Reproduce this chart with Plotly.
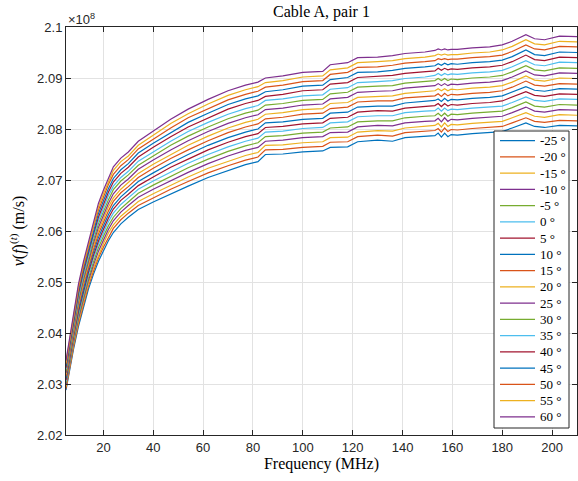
import plotly.graph_objects as go

# ---------------- data ----------------
# frequency sample points (MHz)
freq_mhz = [5, 6, 8, 10, 12, 14, 16, 18, 20, 22, 24, 27, 30, 34, 40, 47, 54, 62, 70, 77,
            82, 85, 92, 100, 108, 111, 118, 122, 130, 136, 141, 149, 153,
            154.3, 155.6, 156.9, 158.2, 159.5,
            162, 168, 175, 180, 184, 189.5, 193, 197, 203, 210]

temps_c = [-25, -20, -15, -10, -5, 0, 5, 10, 15, 20, 25, 30, 35, 40, 45, 50, 55, 60]

# phase velocity v(f) in units of 1e4 m/s (plotted in units of 1e8 m/s)
v_m25 = [20288, 20316, 20368, 20413, 20452, 20486, 20515, 20540, 20561, 20581, 20597, 20614, 20627, 20642, 20657, 20673, 20688, 20705, 20719, 20730, 20736, 20750, 20751, 20755, 20757, 20764, 20765, 20775, 20778, 20776, 20783, 20786, 20787, 20792, 20784, 20792, 20785, 20789, 20788, 20791, 20793, 20795, 20802, 20812, 20805, 20803, 20807, 20806]
v_m20 = [20291, 20320, 20372, 20418, 20457, 20492, 20521, 20547, 20568, 20588, 20605, 20622, 20635, 20650, 20665, 20682, 20697, 20714, 20728, 20739, 20745, 20759, 20760, 20764, 20766, 20774, 20775, 20785, 20788, 20786, 20793, 20796, 20797, 20801, 20794, 20802, 20795, 20799, 20798, 20801, 20803, 20805, 20812, 20822, 20815, 20813, 20817, 20816]
v_m15 = [20295, 20323, 20376, 20423, 20462, 20497, 20527, 20553, 20575, 20596, 20612, 20629, 20642, 20658, 20673, 20690, 20706, 20723, 20737, 20748, 20754, 20768, 20769, 20773, 20775, 20783, 20784, 20794, 20797, 20796, 20802, 20805, 20807, 20811, 20804, 20812, 20805, 20809, 20808, 20811, 20813, 20815, 20822, 20832, 20825, 20823, 20828, 20827]
v_m10 = [20298, 20327, 20381, 20428, 20468, 20503, 20533, 20560, 20582, 20603, 20620, 20637, 20650, 20666, 20682, 20699, 20715, 20732, 20747, 20758, 20764, 20776, 20778, 20783, 20785, 20793, 20794, 20804, 20807, 20806, 20812, 20815, 20816, 20821, 20814, 20822, 20815, 20819, 20818, 20821, 20823, 20825, 20832, 20843, 20835, 20833, 20838, 20837]
v_m5 = [20302, 20330, 20385, 20433, 20473, 20508, 20539, 20567, 20589, 20610, 20627, 20644, 20657, 20674, 20690, 20707, 20724, 20741, 20756, 20767, 20773, 20785, 20787, 20792, 20794, 20802, 20804, 20814, 20816, 20816, 20822, 20825, 20826, 20831, 20825, 20831, 20825, 20829, 20828, 20831, 20833, 20835, 20842, 20853, 20845, 20843, 20848, 20847]
v_0 = [20305, 20334, 20389, 20438, 20478, 20514, 20546, 20574, 20596, 20618, 20635, 20652, 20665, 20682, 20698, 20716, 20733, 20750, 20765, 20776, 20782, 20794, 20796, 20801, 20803, 20812, 20814, 20824, 20826, 20826, 20832, 20835, 20836, 20841, 20835, 20841, 20836, 20839, 20838, 20841, 20843, 20845, 20852, 20863, 20856, 20854, 20859, 20858]
v_5 = [20308, 20337, 20393, 20442, 20483, 20519, 20552, 20580, 20603, 20625, 20643, 20660, 20672, 20689, 20706, 20725, 20741, 20759, 20774, 20785, 20791, 20803, 20805, 20810, 20812, 20821, 20823, 20833, 20836, 20835, 20841, 20844, 20846, 20850, 20844, 20850, 20845, 20848, 20847, 20850, 20852, 20855, 20862, 20873, 20866, 20864, 20869, 20868]
v_10 = [20312, 20341, 20397, 20447, 20488, 20525, 20558, 20587, 20610, 20632, 20650, 20667, 20680, 20697, 20714, 20733, 20750, 20768, 20783, 20794, 20800, 20812, 20814, 20819, 20821, 20831, 20833, 20843, 20845, 20845, 20851, 20854, 20856, 20859, 20854, 20860, 20855, 20858, 20857, 20860, 20862, 20865, 20872, 20883, 20876, 20874, 20879, 20878]
v_15 = [20315, 20344, 20402, 20452, 20494, 20530, 20564, 20594, 20617, 20639, 20658, 20675, 20687, 20705, 20723, 20742, 20759, 20777, 20793, 20804, 20810, 20820, 20823, 20829, 20831, 20840, 20843, 20853, 20855, 20855, 20861, 20864, 20865, 20869, 20864, 20870, 20865, 20868, 20867, 20870, 20872, 20875, 20882, 20894, 20886, 20884, 20889, 20888]
v_20 = [20319, 20348, 20406, 20457, 20499, 20536, 20570, 20600, 20624, 20647, 20665, 20682, 20695, 20713, 20731, 20750, 20768, 20786, 20802, 20813, 20819, 20829, 20832, 20838, 20840, 20850, 20852, 20862, 20864, 20865, 20870, 20873, 20875, 20879, 20875, 20879, 20875, 20878, 20877, 20880, 20882, 20885, 20892, 20904, 20896, 20894, 20900, 20899]
v_25 = [20322, 20351, 20410, 20462, 20504, 20541, 20576, 20607, 20631, 20654, 20673, 20690, 20702, 20721, 20739, 20759, 20777, 20795, 20811, 20822, 20828, 20838, 20841, 20847, 20849, 20859, 20862, 20872, 20874, 20875, 20880, 20883, 20885, 20889, 20885, 20889, 20885, 20888, 20887, 20890, 20892, 20895, 20902, 20914, 20906, 20904, 20910, 20909]
v_30 = [20325, 20355, 20414, 20467, 20509, 20547, 20582, 20614, 20638, 20661, 20681, 20698, 20710, 20729, 20747, 20768, 20786, 20804, 20820, 20831, 20837, 20847, 20850, 20856, 20858, 20869, 20872, 20882, 20884, 20885, 20890, 20893, 20895, 20899, 20895, 20899, 20895, 20898, 20897, 20900, 20902, 20905, 20912, 20924, 20916, 20914, 20920, 20919]
v_35 = [20329, 20358, 20418, 20472, 20514, 20552, 20588, 20620, 20645, 20669, 20688, 20705, 20717, 20737, 20755, 20776, 20795, 20813, 20829, 20840, 20846, 20856, 20859, 20865, 20867, 20878, 20881, 20891, 20893, 20895, 20899, 20902, 20905, 20909, 20905, 20909, 20906, 20908, 20907, 20910, 20912, 20915, 20922, 20934, 20926, 20924, 20931, 20930]
v_40 = [20332, 20362, 20423, 20477, 20520, 20558, 20594, 20627, 20652, 20676, 20696, 20713, 20725, 20745, 20764, 20785, 20804, 20822, 20839, 20850, 20856, 20864, 20868, 20875, 20877, 20888, 20891, 20901, 20903, 20905, 20909, 20912, 20914, 20919, 20915, 20919, 20916, 20918, 20917, 20920, 20922, 20925, 20932, 20945, 20936, 20934, 20941, 20940]
v_45 = [20336, 20365, 20427, 20482, 20525, 20563, 20600, 20634, 20659, 20683, 20703, 20720, 20732, 20753, 20772, 20793, 20813, 20831, 20848, 20859, 20865, 20873, 20877, 20884, 20886, 20897, 20901, 20911, 20912, 20915, 20919, 20922, 20924, 20928, 20925, 20929, 20926, 20928, 20927, 20930, 20932, 20935, 20942, 20955, 20946, 20944, 20951, 20950]
v_50 = [20339, 20369, 20431, 20487, 20530, 20569, 20607, 20641, 20666, 20691, 20711, 20728, 20740, 20761, 20780, 20802, 20822, 20840, 20857, 20868, 20874, 20882, 20886, 20893, 20895, 20907, 20911, 20921, 20922, 20925, 20929, 20932, 20934, 20938, 20936, 20938, 20936, 20937, 20937, 20940, 20942, 20945, 20952, 20965, 20957, 20955, 20962, 20961]
v_55 = [20342, 20372, 20435, 20491, 20535, 20574, 20613, 20647, 20673, 20698, 20719, 20736, 20747, 20768, 20788, 20811, 20830, 20849, 20866, 20877, 20883, 20891, 20895, 20902, 20904, 20916, 20920, 20930, 20932, 20934, 20938, 20941, 20944, 20947, 20945, 20947, 20945, 20946, 20946, 20949, 20951, 20955, 20962, 20975, 20967, 20965, 20972, 20971]
v_60 = [20346, 20376, 20439, 20496, 20540, 20580, 20619, 20654, 20680, 20705, 20726, 20743, 20755, 20776, 20796, 20819, 20839, 20858, 20875, 20886, 20892, 20900, 20904, 20911, 20913, 20926, 20930, 20940, 20941, 20944, 20948, 20951, 20954, 20957, 20955, 20957, 20955, 20956, 20956, 20959, 20961, 20965, 20972, 20985, 20977, 20975, 20982, 20981]

series = [v_m25, v_m20, v_m15, v_m10, v_m5, v_0, v_5, v_10, v_15,
          v_20, v_25, v_30, v_35, v_40, v_45, v_50, v_55, v_60]

y_ticks = [2.02, 2.03, 2.04, 2.05, 2.06, 2.07, 2.08, 2.09, 2.10]
y_tick_text = ["2.02", "2.03", "2.04", "2.05", "2.06", "2.07", "2.08", "2.09", "2.1"]
x_ticks = [20, 40, 60, 80, 100, 120, 140, 160, 180, 200]

# ---------------- style ----------------
matlab_colors = ["#0072BD", "#D95319", "#EDB120", "#7E2F8E",
                 "#77AC30", "#4DBEEE", "#A2142F"]
W, H = 578, 481
ML, MR, MT, MB = 66, 1, 27, 46
PW, PH = W - ML - MR, H - MT - MB
AX = "#262626"
SERIF = "Liberation Serif, DejaVu Serif, serif"
SANS = "Liberation Sans, Arial, sans-serif"


def px_x(px):
    return (px - ML) / PW


def px_y(py):
    return (H - MB - py) / PH


fig = go.Figure()
for i, (t, vals) in enumerate(zip(temps_c, series)):
    fig.add_trace(go.Scatter(
        x=freq_mhz, y=[v / 1e4 for v in vals], mode="lines",
        name=f"{t} °", showlegend=False,
        line=dict(color=matlab_colors[i % 7], width=1.2)))

axis_common = dict(
    automargin=False,
    showline=True, linecolor=AX, linewidth=1, mirror="ticks",
    ticks="inside", ticklen=5, tickcolor=AX, tickwidth=1,
    showgrid=True, gridcolor="#e2e2e2", gridwidth=1, zeroline=False,
    tickfont=dict(family=SANS, size=13, color=AX),
)

fig.update_xaxes(range=[5, 210], tickvals=x_ticks,
                 title=dict(text="Frequency (MHz)", font=dict(family=SERIF, size=16, color="#000"),
                            standoff=4),
                 **axis_common)
fig.update_yaxes(range=[2.02, 2.10], tickvals=y_ticks, ticktext=y_tick_text,
                 title=dict(text="<i>v</i>(<i>f</i>)<sup>(<i>t</i>)</sup> (m/s)",
                            font=dict(family=SERIF, size=16, color="#000"), standoff=8),
                 **axis_common)

# manual legend (MATLAB-style compact box)
shapes = [dict(type="rect", xref="paper", yref="paper",
               x0=px_x(494), x1=px_x(569), y0=px_y(428), y1=px_y(131),
               line=dict(color=AX, width=1), fillcolor="white", layer="above")]
annotations = []
for i, t in enumerate(temps_c):
    yy = px_y(140.7 + 16.24 * i)
    shapes.append(dict(type="line", xref="paper", yref="paper",
                       x0=px_x(500), x1=px_x(535), y0=yy, y1=yy,
                       line=dict(color=matlab_colors[i % 7], width=1.2), layer="above"))
    annotations.append(dict(xref="paper", yref="paper", x=px_x(538), y=yy,
                            xanchor="left", yanchor="middle", showarrow=False,
                            text=f"{t} °", font=dict(family=SERIF, size=13, color="#000")))

annotations.append(dict(xref="paper", yref="paper", x=0.0, y=1.0, xanchor="left",
                        yanchor="bottom", showarrow=False, yshift=-2,
                        text="×10<sup>8</sup>", font=dict(family=SANS, size=13, color=AX)))

fig.update_layout(
    template="none",
    width=W, height=H, margin=dict(l=ML, r=MR, t=MT, b=MB, pad=0, autoexpand=False),
    paper_bgcolor="white", plot_bgcolor="white",
    title=dict(text="Cable A, pair 1", x=(ML + PW / 2) / W, xanchor="center",
               y=1 - 11 / H, yanchor="middle", font=dict(family=SERIF, size=16, color="#000")),
    shapes=shapes, annotations=annotations, showlegend=False,
)

fig.write_html("out.html", config={"displayModeBar": False},
               post_script="document.body.style.margin='0';document.body.style.overflow='hidden';")
